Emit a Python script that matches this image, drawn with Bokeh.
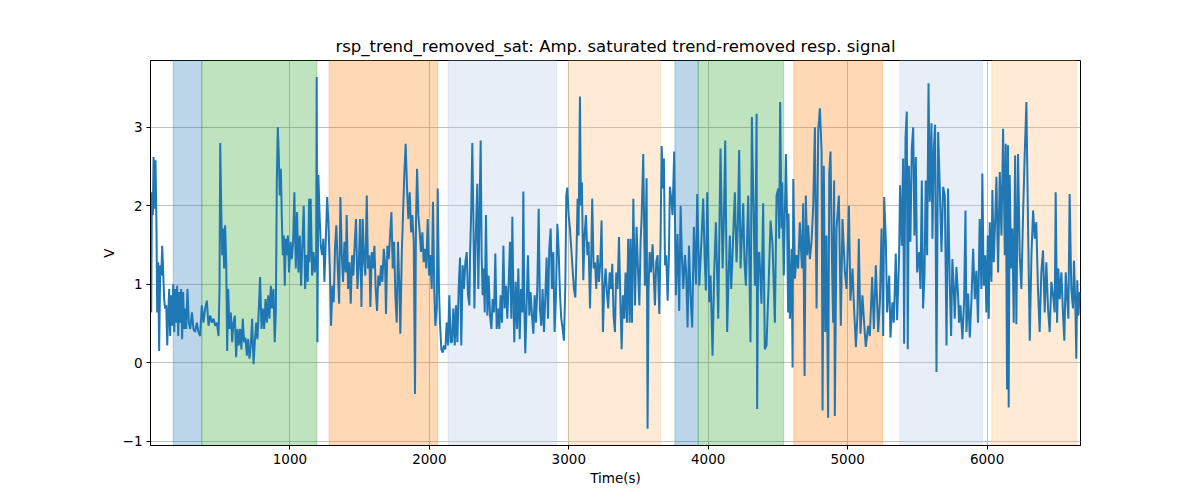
from bokeh.plotting import figure
from bokeh.models import BoxAnnotation, FixedTicker, Range1d
from bokeh.embed import file_html
from bokeh.resources import INLINE

# ---- data ----
t = [5, 10, 17, 22, 29, 36, 43, 48, 55, 62, 70, 77, 84, 91, 98, 105, 113, 120, 127, 134, 141, 148, 156, 163, 170, 177, 184, 191, 199, 206, 213, 220, 227, 234, 242, 249, 256, 265, 275, 285, 297, 308, 320, 332, 344, 356, 368, 380, 392, 404, 416, 428, 440, 452, 464, 476, 488, 495, 500, 507, 514, 521, 528, 535, 543, 550, 557, 567, 576, 586, 595, 605, 614, 624, 633, 643, 652, 662, 671, 681, 691, 700, 710, 719, 729, 739, 748, 758, 767, 777, 786, 796, 805, 815, 825, 834, 844, 853, 863, 872, 882, 891, 899, 906, 913, 920, 927, 935, 942, 949, 956, 963, 970, 977, 985, 994, 1004, 1013, 1023, 1032, 1042, 1051, 1061, 1071, 1080, 1090, 1099, 1109, 1119, 1128, 1138,
     1140, 1149, 1159, 1169, 1178, 1188, 1192, 1197, 1204, 1212, 1221, 1231, 1240, 1247, 1257, 1267, 1276, 1286, 1295, 1305, 1314, 1324, 1333, 1343, 1353, 1362, 1372, 1381, 1391, 1400, 1407, 1417, 1427, 1436, 1446, 1455, 1465, 1474, 1484, 1493, 1503, 1513, 1522, 1532, 1541, 1551, 1560, 1570, 1577, 1587, 1596, 1606, 1615, 1625, 1634, 1644, 1654, 1663, 1673, 1682, 1689, 1699, 1709, 1718, 1728, 1737, 1747, 1756, 1766, 1775, 1785, 1792, 1802, 1811, 1821, 1830, 1840, 1849, 1859, 1869, 1878, 1888, 1897, 1904, 1912, 1921, 1931, 1940, 1950, 1959, 1969, 1978, 1988, 1998, 2007, 2017, 2026, 2036, 2043, 2053, 2060, 2069, 2076, 2086, 2096, 2105, 2115, 2124, 2134, 2143, 2153, 2162, 2172, 2182, 2191, 2201, 2210, 2220, 2229, 2239, 2248, 2258, 2268, 2277, 2287,
     2292, 2301, 2308, 2316, 2323, 2330, 2337, 2344, 2351, 2359, 2368, 2375, 2382, 2390, 2397, 2406, 2416, 2425, 2435, 2445, 2454, 2464, 2473, 2483, 2492, 2502, 2511, 2521, 2531, 2540, 2550, 2559, 2569, 2578, 2588, 2595, 2602, 2609, 2619, 2629, 2638, 2648, 2657, 2667, 2674, 2681, 2688, 2698, 2707, 2717, 2726, 2736, 2746, 2755, 2765, 2774, 2784, 2793, 2803, 2812, 2822, 2832, 2841, 2851, 2860, 2870, 2879, 2889, 2898, 2908, 2918, 2927, 2937, 2946, 2956, 2965, 2975, 2982, 2989, 2999, 3008, 3018, 3027, 3037, 3047, 3056, 3063, 3070, 3080, 3087, 3094, 3104, 3113, 3123, 3133, 3142, 3152, 3161, 3168, 3178, 3188, 3197, 3207, 3216, 3226, 3235, 3245, 3254, 3264, 3274, 3283, 3293, 3302, 3312, 3321, 3331, 3340, 3350, 3360, 3369, 3379, 3388, 3398, 3407, 3417, 3426, 3436,
     3443, 3453, 3463, 3475, 3486, 3496, 3506, 3515, 3522, 3534, 3546, 3558, 3565, 3572, 3580, 3589, 3601, 3611, 3618, 3627, 3637, 3649, 3658, 3666, 3675, 3682, 3690, 3699, 3709, 3718, 3725, 3735, 3744, 3756, 3768, 3780, 3792, 3802, 3811, 3821, 3833, 3842, 3852, 3862, 3873, 3885, 3897, 3912, 3921, 3936, 3952, 3964, 3974, 3983, 3993, 4007, 4017, 4031, 4043, 4055, 4072, 4088, 4103, 4112, 4122, 4136, 4146, 4155, 4165, 4174, 4191, 4203, 4213, 4222, 4232, 4241, 4251, 4260, 4270, 4287, 4294, 4303, 4313, 4323, 4335, 4342, 4347, 4351, 4358, 4366, 4382, 4394, 4406, 4418, 4433, 4447, 4461, 4471, 4478, 4490, 4502, 4509, 4516, 4526, 4530, 4542, 4557, 4566, 4573,
     4576, 4586, 4598, 4605, 4610, 4622, 4633, 4645, 4657, 4672, 4681, 4691, 4700, 4710, 4717, 4729, 4741, 4753, 4765, 4777, 4789, 4801, 4813, 4820, 4829, 4839, 4848, 4860, 4868, 4877, 4889, 4896, 4903, 4908, 4920, 4937, 4951, 4963, 4980, 4992, 5009, 5020, 5035, 5044, 5059, 5071, 5080, 5092, 5106, 5118, 5130, 5147, 5159, 5176, 5188, 5202, 5219, 5231, 5243, 5255, 5262, 5274, 5283, 5298, 5307, 5321, 5331, 5345, 5355, 5369, 5376, 5388, 5398, 5405, 5415, 5424, 5431, 5439, 5450, 5460, 5470, 5479, 5489, 5498, 5513, 5522, 5532, 5541, 5551, 5560, 5570, 5580, 5589, 5601, 5608, 5618, 5627, 5637, 5649, 5661, 5673, 5685, 5697, 5709, 5720, 5732,
     5742, 5751, 5761, 5768, 5780, 5792, 5799, 5809, 5823, 5835, 5845, 5852, 5864, 5876, 5888, 5900, 5912, 5923, 5935, 5947, 5959, 5966, 5976, 5986, 5995, 6005, 6012, 6019, 6031, 6038, 6048, 6060, 6067, 6079, 6091, 6103, 6115, 6127, 6134, 6143, 6150, 6155, 6162, 6172, 6181, 6191, 6201, 6210, 6222, 6234, 6246, 6258, 6270, 6282, 6294, 6306, 6318, 6330, 6342, 6353, 6365, 6377, 6389, 6401, 6413, 6425, 6437, 6449, 6461, 6473, 6485, 6492, 6502, 6511, 6521, 6533, 6545, 6554, 6564, 6573, 6583, 6592, 6604, 6616, 6623, 6633, 6640, 6647, 6655, 6665]

v = [0.64, 2.17, 1.88, 2.62, 1.96, 2.58, 1.71, 0.64, 1.28, 0.15, 1.24, 1.11, 1.49, 1.15, 0.81, 0.69, 0.73, 0.22, 0.6, 0.94, 0.34, 0.86, 0.47, 1.0, 0.39, 0.94, 0.51, 0.98, 0.34, 0.9, 0.51, 0.94, 0.3, 0.9, 0.43, 0.69, 0.43, 0.94, 0.51, 0.43, 0.64, 0.43, 0.39, 0.51, 0.39, 0.34, 0.73, 0.51, 0.69, 0.79, 0.47, 0.6, 0.51, 0.56, 0.47, 0.51, 0.34, 0.94, 2.8, 2.0, 1.37, 1.71, 1.2, 1.75, 1.28, 0.15, 0.94, 0.43, 0.64, 0.26, 0.51, 0.6, 0.07, 0.43, 0.22, 0.43, 0.17, 0.56, 0.26, 0.32, 0.09, 0.3, 0.05, 0.22, 0.56, -0.02, 0.26, 0.51, 0.3, 0.69, 1.09, 0.43, 0.69, 0.43, 0.81, 0.51, 0.86, 0.56, 0.98, 0.69, 0.94, 0.26, 0.64, 2.34, 3.0, 2.64, 2.13, 2.47, 1.83, 1.37, 1.62, 0.98, 1.58, 1.37, 1.62, 1.15, 1.54, 1.32, 1.54, 2.17, 1.2, 1.92, 1.15, 1.62, 0.98, 1.54, 2.0, 0.94, 1.37, 1.03, 2.09,
     1.28, 2.09, 1.11, 1.41, 1.15, 1.37, 3.64, 0.26, 2.39, 1.92, 1.49, 1.37, 1.58, 1.03, 1.54, 2.11, 1.79, 1.2, 0.47, 0.98, 0.77, 1.49, 1.75, 1.2, 0.75, 2.11, 1.37, 1.03, 1.54, 1.15, 1.88, 0.94, 1.28, 0.75, 1.37, 1.11, 1.54, 1.83, 0.94, 1.2, 1.83, 0.71, 1.83, 1.28, 1.11, 2.13, 1.2, 1.37, 0.71, 1.41, 1.2, 1.49, 0.94, 0.66, 1.11, 0.98, 1.24, 1.03, 1.45, 1.28, 0.62, 1.49, 1.32, 1.62, 1.92, 1.2, 1.54, 0.86, 0.51, 1.54, 0.94, 0.37, 1.37, 1.88, 2.43, 2.79, 2.22, 1.83, 2.17, 1.66, 1.88, 1.54, -0.4, 1.79, 2.47, 1.88, 1.66, 1.41, 1.66, 1.28, 1.45, 1.2, 1.83, 1.11, 1.37, 0.94, 2.05, 0.86, 0.47, 0.69, 2.22, 0.94, 0.51, 0.17, 0.13, 0.22, 0.17, 0.51, 0.22, 0.86, 0.26, 0.26, 0.69, 0.22, 0.73, 0.26, 0.94, 1.34, 0.22, 1.24, 0.94, 1.28, 1.41, 0.86, 0.73,
     1.37, 2.0, 2.8, 1.79, 0.69, 1.37, 1.88, 2.28, 0.94, 1.79, 2.83, 1.37, 0.86, 1.2, 0.64, 1.88, 0.6, 1.11, 0.6, 0.43, 0.81, 0.64, 1.39, 0.43, 0.69, 0.43, 0.86, 0.51, 1.49, 0.69, 0.98, 0.56, 1.03, 1.54, 0.56, 1.86, 0.94, 0.26, 1.03, 0.43, 1.2, 0.3, 0.94, 0.64, 2.18, 0.73, 0.12, 0.77, 1.37, 0.6, 0.9, 0.6, 0.37, 0.86, 0.51, 0.94, 1.96, 0.69, 0.47, 0.94, 0.39, 0.86, 1.34, 0.56, 1.45, 1.71, 0.94, 1.41, 0.39, 0.86, 1.77, 1.45, 0.86, 0.56, 0.43, 0.28, 0.98, 2.13, 2.23, 1.88, 1.71, 1.45, 1.2, 0.94, 0.83, 1.45, 2.09, 1.62, 3.39, 2.0, 2.3, 1.05, 1.62, 1.88, 1.37, 1.54, 0.69, 1.37, 2.09, 1.2, 1.28, 0.94, 1.37, 1.03, 1.28, 1.81, 0.39, 0.94, 1.2, 0.88, 0.69, 1.15, 0.94, 1.26, 0.6, 0.39, 1.15, 0.94, 1.6, 0.86, 0.17, 0.86, 0.56, 1.15, 0.51, 1.58, 0.51,
     1.58, 0.51, 2.09, 0.73, 1.73, 1.2, 0.73, 1.54, 1.83, 2.66, 0.98, 2.35, -0.84, 0.94, 1.41, 1.15, 1.51, 1.03, 0.73, 1.28, 1.37, 0.62, 1.54, 2.76, 2.22, 2.6, 1.24, 1.37, 0.79, 1.37, 2.24, 2.09, 1.88, 2.69, 0.86, 1.64, 0.66, 2.0, 1.37, 0.94, 1.37, 1.15, 0.45, 1.49, 0.86, 0.45, 1.73, 1.0, 2.15, 0.98, 1.58, 2.09, 1.37, 0.92, 2.17, 0.77, 1.11, 0.09, 1.15, 1.79, 0.56, 2.73, 1.2, 1.79, 2.83, 0.39, 1.11, 1.62, 0.94, 1.37, 2.17, 1.28, 1.79, 2.71, 1.2, 1.58, 2.03, 1.28, 0.98, 2.13, 1.37, 0.26, 3.13, 2.13, 0.98, 2.22, 3.17, -0.59, 1.37, 1.41, 0.75, 2.03, 0.17, 0.22, 0.98, 1.81, 1.51, 0.94, 0.51, 2.13, 2.22, 1.58, 3.32, 1.71, 2.3, 1.11, 2.66, 1.79, 0.64,
     1.9, 0.56, 1.45, -0.06, 2.34, 1.07, 1.37, 1.2, 1.79, 1.2, 2.03, -0.17, 2.13, 1.37, 1.75, 1.32, 1.54, 2.0, 3.0, 0.69, 2.96, 3.24, 2.69, -0.61, 2.51, 0.39, 1.62, -0.7, 2.41, 2.69, 1.15, 0.51, 2.32, -0.68, 1.71, 2.13, 0.47, 1.83, 1.15, 0.94, 2.0, 0.79, 1.2, 0.77, 0.2, 0.64, 1.58, 0.37, 0.86, 0.51, 0.2, 0.47, 0.34, 1.09, 0.43, 1.24, 0.39, 0.77, 1.71, 0.34, 2.11, 1.54, 0.64, 1.11, 0.32, 0.77, 0.51, 1.39, 0.54, 1.37, 2.26, 1.49, 2.6, 0.24, 2.86, 3.2, 0.17, 2.51, 1.54, 2.73, 3.0, 1.62, 2.62, 1.15, 1.41, 0.94, 2.32, 0.69, 1.11, 2.32, 1.37, 3.56, 2.05, 3.05, 1.58, 2.73, 3.03, -0.12, 2.94, 2.22, 1.41, 2.24, 2.13, 0.22, 2.22, 1.03,
     0.34, 1.32, 0.94, 0.56, 1.22, 0.86, 0.51, 0.73, 0.3, 0.77, 1.94, 0.39, 0.88, 0.32, 0.81, 1.45, 0.81, 1.17, 0.51, 1.83, 0.94, 2.41, 0.98, 1.37, 0.64, 1.62, 0.56, 1.79, 1.03, 2.2, 1.28, 1.92, 2.37, 1.15, 2.43, 1.62, 2.98, 1.37, 2.79, -0.34, 2.77, -0.57, 2.39, 1.2, 1.71, 0.51, 2.64, 0.49, 2.66, 1.37, 0.94, 1.88, 2.66, 3.32, 1.71, 0.28, 1.37, 1.94, 1.58, 1.79, 0.94, 0.39, 1.15, 1.43, 0.64, 1.28, 0.69, 0.39, 1.03, 0.86, 0.64, 2.17, 0.51, 1.2, 0.81, 1.15, 0.6, 0.28, 1.15, 0.86, 0.56, 2.15, 0.94, 0.69, 1.3, 0.73, 0.05, 1.05, 0.6, 0.9]

span_starts = [163, 368, 1281, 2134, 2997, 3761, 3928, 4614, 5374, 6034]
span_ends = [368, 1193, 2060, 2913, 3659, 3928, 4541, 5250, 5967, 6643]
span_colors = ["#1f77b4", "#2ca02c", "#ff7f0e", "#aec7e8", "#ffbb78",
               "#1f77b4", "#2ca02c", "#ff7f0e", "#aec7e8", "#ffbb78"]

x_ticks = [1000, 2000, 3000, 4000, 5000, 6000]
y_ticks = [-1, 0, 1, 2, 3]

FONT = "DejaVu Sans"

p = figure(width=1184, height=490, output_backend="svg", toolbar_location=None,
           x_range=Range1d(0, 6670), y_range=Range1d(-1.055, 3.85),
           title="rsp_trend_removed_sat: Amp. saturated trend-removed resp. signal",
           min_border_left=150, min_border_right=104, min_border_top=60, min_border_bottom=45)

for s, e, c in zip(span_starts, span_ends, span_colors):
    p.add_layout(BoxAnnotation(left=s, right=e, fill_color=c, fill_alpha=0.3,
                               line_color=c, line_alpha=0.3, line_width=1, level="underlay"))

p.line(t, v, line_color="#1f77b4", line_width=2)

p.title.align = "center"
p.title.text_font = FONT
p.title.text_font_size = "16.5px"
p.title.text_font_style = "normal"
p.title.text_color = "black"

p.xaxis.ticker = FixedTicker(ticks=x_ticks)
p.yaxis.ticker = FixedTicker(ticks=y_ticks)
p.xaxis.axis_label = "Time(s)"
p.yaxis.axis_label = "V"
for ax in (p.xaxis[0], p.yaxis[0]):
    ax.axis_label_text_font = FONT
    ax.axis_label_text_font_size = "13.5px"
    ax.axis_label_text_font_style = "normal"
    ax.axis_label_text_color = "black"
    ax.axis_label_standoff = 3
    ax.major_label_text_font = FONT
    ax.major_label_text_font_size = "13.5px"
    ax.major_label_text_color = "black"
    ax.major_label_standoff = 4
    ax.major_tick_out = 4
    ax.major_tick_in = 0
    ax.minor_tick_line_color = None
    ax.axis_line_color = "black"
    ax.major_tick_line_color = "black"
p.yaxis.major_label_orientation = "horizontal"

p.grid.grid_line_color = "#b0b0b0"
p.grid.grid_line_width = 0.8
p.outline_line_color = "black"
p.outline_line_width = 1
p.background_fill_color = "white"
p.border_fill_color = "white"

open("out.html", "w").write(file_html(p, INLINE))
